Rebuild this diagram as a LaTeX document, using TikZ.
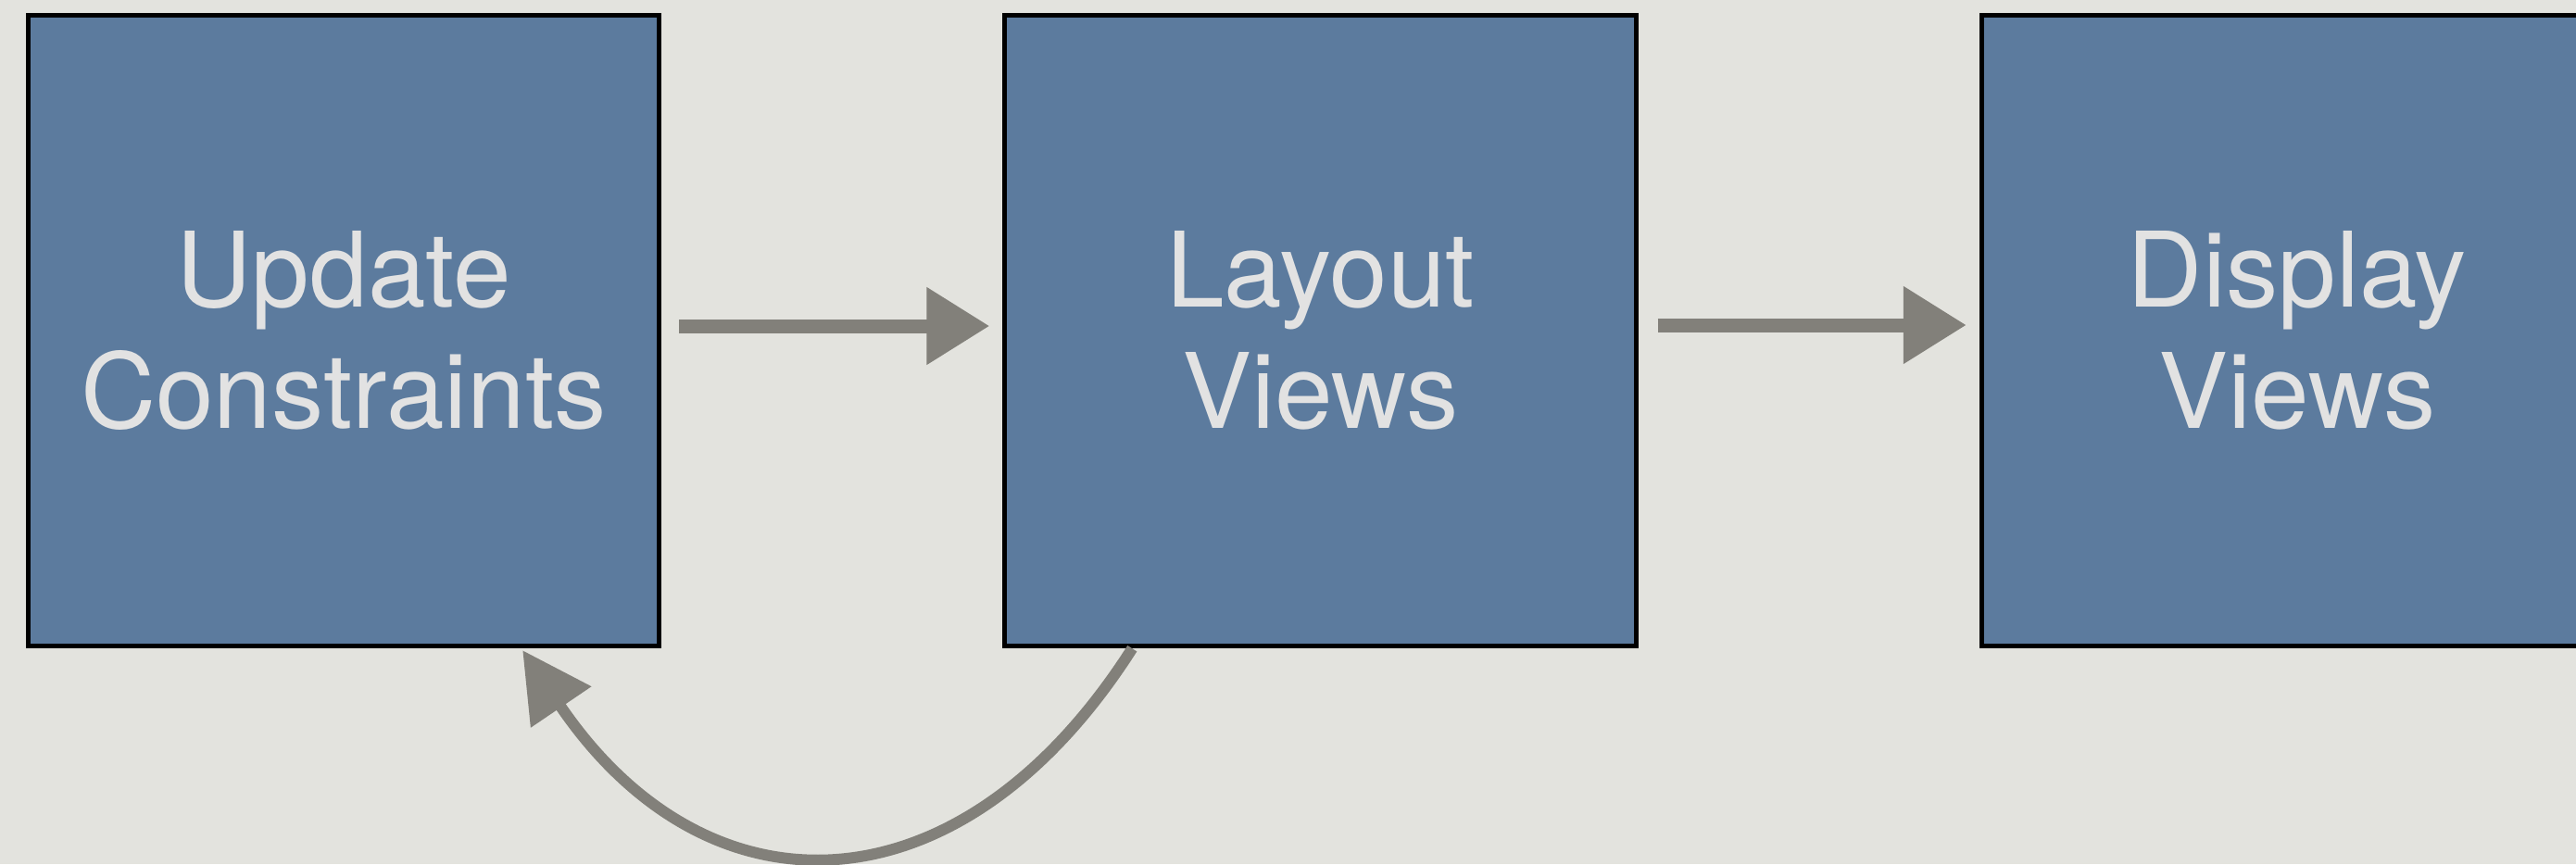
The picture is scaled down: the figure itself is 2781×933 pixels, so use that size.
\documentclass[tikz,border=0pt]{standalone}
\usepackage{fontspec}
\setmainfont{TeX Gyre Heros}
\usetikzlibrary{arrows.meta,calc}
\definecolor{paper}{RGB}{227,227,222}
\definecolor{boxblue}{RGB}{92,123,158}
\definecolor{boxtext}{RGB}{226,226,226}
\definecolor{arrowgrey}{RGB}{130,128,122}
\tikzset{
  stagebox/.style={draw=black, line width=0.05cm, fill=boxblue, minimum width=6.81cm, minimum height=6.81cm,
    text=boxtext, align=center, font=\fontsize{32}{37.3}\selectfont, inner sep=0pt},
  flowarrow/.style={draw=arrowgrey, line width=0.15cm, -{Triangle[length=0.68cm,width=0.8cm]}},
  backarrow/.style={draw=arrowgrey, line width=0.12cm, -{Triangle[length=0.74cm,width=0.76cm]}}
}
\begin{document}
\begin{tikzpicture}[x=0.01cm,y=-0.01cm]
\fill[paper] (0,0) rectangle (2781,933);
\useasboundingbox (0,0) rectangle (2781,933);
\clip (0,0) rectangle (2781,933);
\node[stagebox] (upd) at (371,357) {Update\\Constraints};
\node[stagebox] (lay) at (1425.5,357) {Layout\\Views};
\node[stagebox] (dis) at (2480,357) {Display\\Views};
\draw[flowarrow] ($(upd.east)+(19,-5)$) -- ($(lay.west)+(-14,-5)$);
\draw[flowarrow] ($(lay.east)+(21,-6)$) -- ($(dis.west)+(-14,-6)$);
\draw[backarrow] ($(lay.south west)+(140,0)$) .. controls +(-185,290) and +(200,295) .. ($(upd.south east)+(-150,2)$);
\end{tikzpicture}
\end{document}
